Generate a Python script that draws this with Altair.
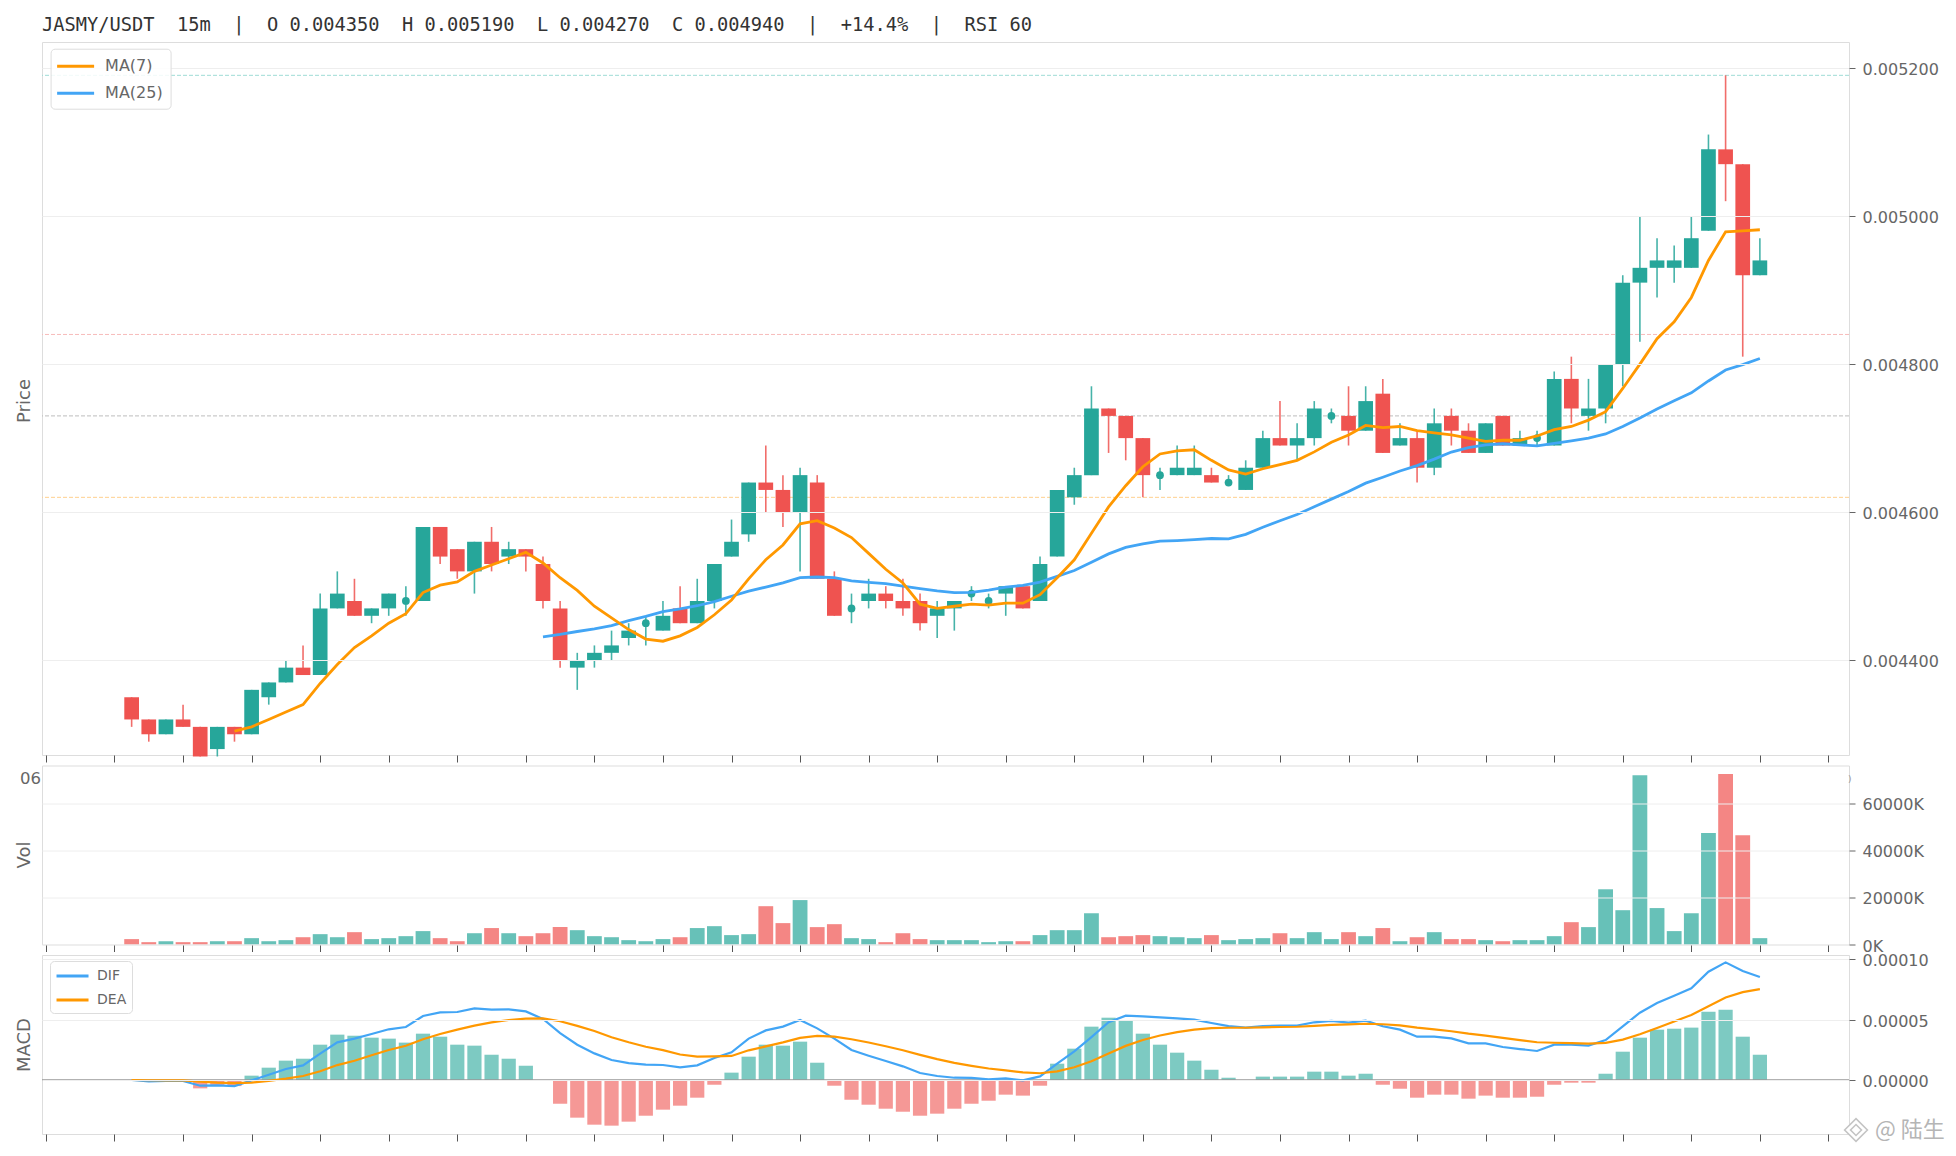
import altair as alt
import pandas as pd

TITLE = "JASMY/USDT  15m  |  O 0.004350  H 0.005190  L 0.004270  C 0.004940  |  +14.4%  |  RSI 60".replace(" ", "\u00a0")
FIRST_INDEX = 5
PRICE_UNIT = 1e-5
MACD_UNIT = 1e-6

opens = [435,432,430,432,431,428,431,430,435,437,439,438,447,448,446,447,448,448,458,455,452,456,454,455,453,447,439,440,441,443,445,444,447,445,448,454,457,464,463,460,464,451,447,448,449,448,448,446,447,449,448,449,450,448,454,462,465,474,473,470,465,465,465,465,464,463,466,470,469,470,473,473,471,476,469,470,466,473,471,468,473,469,470,469,478,473,474,480,491,493,493,493,498,509,507,492]
highs = [435,432,432,434,431,431,431,436,437,440,442,449,452,451,447,449,450,458,458,455,456,458,456,455,454,448,441,442,444,445,446,448,450,451,453,459,464,469,465,466,465,452,449,451,450,451,449,448,448,450,449,450,450,454,463,466,477,474,473,470,466,469,469,466,465,467,471,475,472,475,474,477,477,478,472,471,474,474,472,472,473,471,471,479,481,478,480,492,500,497,496,500,511,519,507,497]
lows = [431,429,430,431,427,427,429,430,434,437,438,438,447,446,445,446,446,448,453,451,449,452,453,452,447,439,436,439,440,442,442,444,445,445,447,454,456,460,458,452,451,446,445,447,447,446,444,443,444,448,447,446,447,448,454,461,465,468,467,462,463,465,465,464,464,463,466,469,467,469,472,469,471,468,469,464,465,469,468,468,469,469,469,469,472,471,472,477,483,489,491,493,498,502,481,492]
closes = [432,430,432,431,427,431,430,436,437,439,438,447,449,446,447,449,448,458,454,452,456,453,455,454,448,440,440,441,442,444,445,446,445,448,453,456,464,463,460,465,451,446,447,449,448,447,445,447,448,449,448,450,447,453,463,465,474,473,470,465,465,466,466,464,464,466,470,469,470,474,473,471,475,468,470,466,472,471,468,472,469,470,470,478,474,474,480,491,493,494,494,497,509,507,492,494]

ma7 = [430.43,431.0,432.0,433.0,434.0,436.86,439.43,441.71,443.29,445.0,446.29,449.14,450.14,450.57,452.0,452.86,453.71,454.57,453.14,451.14,449.43,447.29,445.71,444.14,442.86,442.57,443.29,444.43,446.14,448.14,451.0,453.57,455.57,458.43,458.86,457.86,456.57,454.43,452.29,450.43,447.57,447.0,447.29,447.57,447.43,447.71,447.71,448.86,451.14,453.57,457.14,460.71,463.57,466.14,467.86,468.29,468.43,467.0,465.71,465.14,465.86,466.43,467.0,468.14,469.43,470.43,471.71,471.43,471.57,471.0,470.71,470.43,470.0,469.57,469.71,469.71,470.29,471.14,471.57,472.43,473.57,476.71,480.0,483.43,485.71,489.0,494.0,497.86,498.0,498.14]
ma25 = [443.16,443.48,443.88,444.24,444.68,445.36,445.92,446.56,446.92,447.36,447.92,448.64,449.32,449.88,450.44,451.16,451.24,451.16,450.72,450.52,450.36,450.0,449.68,449.36,449.12,449.16,449.48,449.88,450.12,450.56,451.32,452.12,453.24,454.36,455.24,455.72,456.08,456.16,456.28,456.44,456.4,457.0,457.96,458.84,459.68,460.72,461.76,462.8,463.92,464.72,465.56,466.28,467.16,468.12,468.72,469.08,469.24,469.08,468.96,469.28,469.64,470.0,470.56,471.56,472.72,473.92,475.04,476.12,477.72,479.2,479.92,480.76]

volume_k = [2300,1000,1400,1000,1000,1400,1400,2700,1400,1850,3100,4400,3100,5250,2300,2700,3550,5700,2700,1400,4800,7000,4800,3550,4800,7400,6100,3550,3100,1850,1400,2300,3100,7000,7800,4000,4400,16300,9100,18900,7400,8650,2700,2300,1000,4800,2300,1850,1850,1850,1000,1400,1400,4000,6100,6100,13300,3100,3550,4000,3550,3100,2700,4000,1850,2300,2700,4800,2700,5250,2300,5250,3550,7000,1400,3100,5250,2300,2300,1850,1400,1850,1850,3550,9500,7400,23500,14600,72000,15500,5700,13300,47400,72500,46500,2700]

hist_bars = [0,-0.3,-0.3,-0.5,-6.9,-4,-5,3.6,10.2,16,17.6,29.2,37.5,36.6,35,34.2,30.9,38.3,35.8,29.2,28.4,20.9,17.6,11.8,0,-19.6,-31.1,-36.9,-37.7,-34.4,-29.5,-24.5,-21.2,-14.6,-3.9,6.1,19.3,29.2,28.4,31.7,14.3,-4.7,-16.3,-20.4,-23.7,-26.2,-29.5,-27.8,-23.7,-19.6,-17.1,-12.1,-12.9,-4.7,13.5,25.9,44.1,51.5,49,38.3,29.2,22.6,16,8.5,1.9,0,2.8,2.8,2.8,6.9,6.9,3.6,5.2,-3.9,-7.2,-14.6,-12.1,-12.1,-15.4,-12.9,-14.6,-14.6,-13.8,-3.9,-2.2,-2.2,5.2,23.4,35,41.6,42.4,43.3,56.5,58.1,35.8,20.9]
dif = [0,-1.1,-0.8,-0.8,-4.7,-4.4,-5,-0.3,4.4,9.1,12.1,21.8,31.1,34.2,38,41.9,43.8,52.9,55.9,56.2,59.2,58.1,58.4,56.7,50.4,38.8,29.2,22,16.5,14,12.7,12.4,10.5,12.1,18.2,22.9,34.2,41,44.1,49.6,42.7,34.2,24.8,20.1,15.7,11.3,5.8,3.3,1.9,1.7,0.6,1.4,-0.3,3,13.5,23.7,35.5,47.7,53.2,52.6,51.8,51,49.9,47.1,44.6,43.3,44.6,44.9,44.9,47.7,48.8,47.4,49,44.4,41.6,35.8,35.8,34.4,30.3,30.3,27.3,25.6,24,29.2,29.2,28.4,33,44.4,55.6,63.6,69.7,75.8,89.5,97.2,90,85.1]
dea = [0,-0.2,-0.3,-0.3,-1.25,-2.2,-2.5,-2.2,-0.7,1.1,3.3,7.2,12.35,15.9,20.5,24.8,28.35,33.75,38,41.6,45,47.65,49.6,50.8,51,48.6,44.75,40.45,35.35,31.2,27.45,24.65,21.1,19.4,19.5,19.9,24.55,27.8,31.1,34.8,36.4,35.9,33.7,31,27.9,24.6,20.8,17.3,14.2,11.7,9.5,7.9,6.3,5.6,7.2,10.5,15.5,21.9,28.2,33.1,36.8,39.6,41.7,42.8,43.2,43.2,43.5,43.8,44,44.7,45.5,45.9,46.5,46.1,45.2,43.3,41.8,40.3,38.3,36.7,34.8,33,31.2,30.8,30.5,30.1,30.7,33.4,37.8,43,48.3,53.8,60.9,68.2,72.6,75.1]

level_values = [0.00519, 0.00484, 0.00473, 0.00462]
level_colors = ["#9fdcd6", "#f7bcbb", "#bdbdbd", "#ffd08f"]

price_ticks = [0.0044, 0.0046, 0.0048, 0.0050, 0.0052]
vol_ticks = [0, 20000, 40000, 60000]
macd_ticks = [0.0, 0.00005, 0.0001]
x_ticks = list(range(0, 105, 4))

TEAL, RED, ORANGE, BLUE = "#26a69a", "#ef5350", "#ff9800", "#42a5f5"
WIDTH, H_MAIN, H_SUB = 1807, 713, 179
X_DOMAIN = [-0.23, 105.2]

idx = list(range(FIRST_INDEX, FIRST_INDEX + len(opens)))
df = pd.DataFrame({
    "i": idx,
    "open": [v * PRICE_UNIT for v in opens],
    "high": [v * PRICE_UNIT for v in highs],
    "low": [v * PRICE_UNIT for v in lows],
    "close": [v * PRICE_UNIT for v in closes],
    "vol": volume_k,
    "macd_hist": [v * MACD_UNIT for v in hist_bars],
    "dif": [v * MACD_UNIT for v in dif],
    "dea": [v * MACD_UNIT for v in dea],
})
df["top"] = df[["open", "close"]].max(axis=1)
df["bot"] = df[["open", "close"]].min(axis=1)
up = df[df["close"] > df["open"]]
down = df[df["close"] < df["open"]]
doji = df[df["close"] == df["open"]]
ma7_df = pd.DataFrame({"i": idx[-len(ma7):], "v": [v * PRICE_UNIT for v in ma7], "s": "MA(7)"})
ma25_df = pd.DataFrame({"i": idx[-len(ma25):], "v": [v * PRICE_UNIT for v in ma25], "s": "MA(25)"})
dif_df = pd.DataFrame({"i": idx, "v": df["dif"], "s": "DIF"})
dea_df = pd.DataFrame({"i": idx, "v": df["dea"], "s": "DEA"})
levels = pd.DataFrame({"y": level_values, "c": level_colors})


def x_enc():
    return alt.X("i:Q", scale=alt.Scale(domain=X_DOMAIN, nice=False, zero=False, padding=0),
                 axis=alt.Axis(values=x_ticks, labels=False, title=None, grid=False, domain=False,
                               ticks=True, tickColor="#555555", tickSize=7, tickWidth=1))


def y_axis(values, **kw):
    return alt.Axis(values=values, orient="right", title=None, domain=False, grid=True,
                    gridColor="#eeeeee", gridWidth=1, tickColor="#666666", tickSize=6, tickWidth=1,
                    labelColor="#666666", labelFontSize=16, labelPadding=7, labelOffset=1.5,
                    zindex=1, **kw)


def label(text, x, y, **kw):
    return alt.Chart(pd.DataFrame({"t": [text]})).mark_text(**kw).encode(
        text="t:N", x=alt.value(x), y=alt.value(y))


def axis_title(text, y):
    return label(text, -17, y, angle=270, fontSize=18, color="#666666",
                 align="center", baseline="middle")


def line_legend(x, y, size, path, sym, row, pad, offset):
    return alt.Legend(orient="none", legendX=x, legendY=y, title=None, symbolType=path,
                      symbolSize=sym * sym, symbolStrokeWidth=3, labelFontSize=size,
                      labelColor="#666666", fillColor="rgba(255,255,255,0.85)", strokeColor="#dddddd",
                      cornerRadius=4, padding=pad, rowPadding=row, labelOffset=offset, zindex=2)


PRICE_SCALE = alt.Scale(domain=[0.004272, 0.005235], nice=False, zero=False)
ma_color = alt.Color("s:N", scale=alt.Scale(domain=["MA(7)", "MA(25)"], range=[ORANGE, BLUE]),
                     legend=line_legend(8.6, 6.7, 16, "M-1.22,0H2.89", 18, 8, 7, 26.5))

base_price = alt.Chart(levels).mark_rule(strokeWidth=1, strokeDash=[4, 2]).encode(
    y=alt.Y("y:Q", scale=PRICE_SCALE, axis=y_axis(price_ticks, format=".6f")),
    stroke=alt.Stroke("c:N", scale=None, legend=None))


def candles(data, color):
    wick = alt.Chart(data).mark_rule(color=color, strokeWidth=1.6, opacity=0.85).encode(
        x=x_enc(), y=alt.Y("low:Q"), y2="high:Q")
    body = alt.Chart(data).mark_bar(color=color, size=14.7, orient="vertical").encode(
        x=x_enc(), y=alt.Y("bot:Q"), y2="top:Q")
    return [wick, body]


doji_wick = alt.Chart(doji).mark_rule(color=TEAL, strokeWidth=1.6, opacity=0.85).encode(
    x=x_enc(), y=alt.Y("low:Q"), y2="high:Q")
doji_dot = alt.Chart(doji).mark_circle(color=TEAL, size=60, opacity=1).encode(
    x=x_enc(), y=alt.Y("close:Q"))


def ma_line(data):
    return alt.Chart(data).mark_line(strokeWidth=2.8, strokeJoin="miter").encode(
        x=x_enc(), y=alt.Y("v:Q"), color=ma_color)


main = alt.layer(
    base_price, *candles(up, TEAL), *candles(down, RED), doji_wick, doji_dot,
    ma_line(ma25_df), ma_line(ma7_df),
    axis_title("Price", H_MAIN / 2 + 2.5),
    label(TITLE, 0, -17.5, align="left", baseline="middle", fontSize=18.7, color="#333333",
          font="DejaVu Sans Mono"),
).properties(width=WIDTH, height=H_MAIN)


def vol_bars(data, color):
    return alt.Chart(data).mark_bar(color=color, opacity=0.7, size=14.8, orient="vertical").encode(
        x=x_enc(),
        y=alt.Y("vol:Q", scale=alt.Scale(domain=[0, 76170], nice=False),
                axis=y_axis(vol_ticks, labelExpr="datum.value + 'K'")))


volp = alt.layer(
    vol_bars(df[df["close"] >= df["open"]], TEAL), vol_bars(df[df["close"] < df["open"]], RED),
    axis_title("Vol", H_SUB / 2),
    label("06", -1, 13, align="right", baseline="middle", fontSize=16.5, color="#666666"),
    label(")", WIDTH - 1, 13, align="left", baseline="middle", fontSize=9, color="#999999"),
).properties(width=WIDTH, height=H_SUB)

macd_scale = alt.Scale(domain=[-0.0000446, 0.0001033], nice=False, zero=False)


def macd_bars(data, color):
    return alt.Chart(data).mark_bar(color=color, opacity=0.6, size=14.2, orient="vertical").encode(
        x=x_enc(),
        y=alt.Y("macd_hist:Q", scale=macd_scale, axis=y_axis(macd_ticks, format=".5f")))


zero = alt.Chart(pd.DataFrame({"y": [0.0]})).mark_rule(color="#999999", strokeWidth=1.5).encode(
    y=alt.Y("y:Q", scale=macd_scale))
macd_color = alt.Color("s:N", scale=alt.Scale(domain=["DIF", "DEA"], range=[BLUE, ORANGE]),
                       legend=line_legend(8, 6, 14, "M-1.06,0H2.94", 16, 7, 5.5, 22.5))


def macd_line(data):
    return alt.Chart(data).mark_line(strokeWidth=2.2, strokeJoin="miter").encode(
        x=x_enc(), y=alt.Y("v:Q", scale=macd_scale), color=macd_color)


marks_df = pd.DataFrame({"n": ["outer", "inner"], "s": [520, 120]})
icon = alt.Chart(marks_df).mark_point(shape="diamond", filled=False, stroke="#c4c4c4",
                                      strokeWidth=1.6, fill="#ffffff", fillOpacity=1).encode(
    x=alt.value(1814), y=alt.value(175), size=alt.Size("s:Q", scale=None, legend=None))

macd = alt.layer(
    macd_bars(df[df["macd_hist"] >= 0], TEAL), macd_bars(df[df["macd_hist"] < 0], RED), zero,
    macd_line(dif_df), macd_line(dea_df),
    axis_title("MACD", H_SUB / 2 + 0.5),
    icon,
    label("@ 陆生", 1833, 175, align="left", baseline="middle", fontSize=22, color="#b5b5b5",
          font="Noto Sans CJK SC"),
).properties(width=WIDTH, height=H_SUB)

chart = alt.vconcat(main, volp, macd, spacing=10.5, bounds="flush").resolve_scale(
    color="independent", stroke="independent", size="independent"
).resolve_legend(color="independent").properties(
    padding={"left": 7, "top": 7, "right": 2, "bottom": 2}
).configure_view(stroke="#cccccc", strokeWidth=1).configure(font="DejaVu Sans").configure_axis(
    labelFont="DejaVu Sans").configure_legend(labelFont="DejaVu Sans")

chart.save("out.html", embed_options={"renderer": "svg", "actions": False})
